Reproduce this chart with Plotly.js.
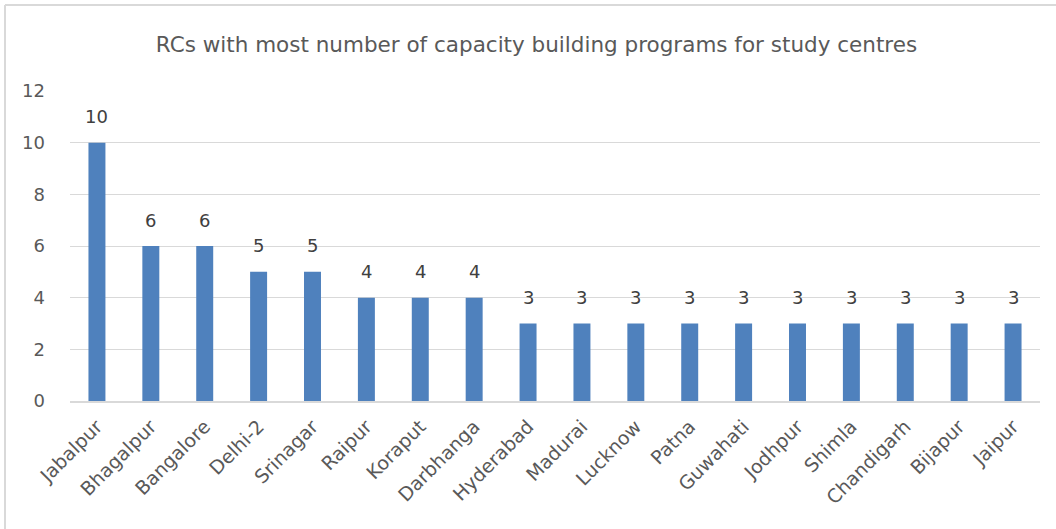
<!DOCTYPE html>
<html>
<head>
<meta charset="utf-8">
<script src="https://cdn.plot.ly/plotly-3.0.1.min.js"></script>
<style>
html,body{margin:0;padding:0;background:#fff;}
#chart{width:1056px;height:529px;}
</style>
</head>
<body>
<div id="chart"></div>
<script>
const categories = ["Jabalpur","Bhagalpur","Bangalore","Delhi-2","Srinagar","Raipur","Koraput","Darbhanga","Hyderabad","Madurai","Lucknow","Patna","Guwahati","Jodhpur","Shimla","Chandigarh","Bijapur","Jaipur"];
const programs = [10,6,6,5,5,4,4,4,3,3,3,3,3,3,3,3,3,3];
const yTicks = [0,2,4,6,8,10,12];
const titleText = "RCs with most number of capacity building programs for study centres";

const FONT = "DejaVu Sans, sans-serif";
const W = 1056, H = 529, L = 70, R = 16, T = 91, B = 128;
const pw = W - L - R, ph = H - T - B;
function px2x(p){ return (p - L) / pw; }
function py2y(p){ return (H - B - p) / ph; }

const trace = {
  type: "bar",
  x: categories,
  y: programs,
  marker: {color: "#4F81BD"},
  hoverinfo: "x+y"
};

const annotations = categories.map((c, i) => ({
  x: c, y: programs[i], xref: "x", yref: "y",
  text: String(programs[i]), showarrow: false,
  yanchor: "middle", yshift: 26,
  font: {family: FONT, size: 18, color: "#404040"}
}));

const layout = {
  width: W, height: H,
  margin: {l: L, r: R, t: T, b: B, pad: 0},
  paper_bgcolor: "#ffffff",
  plot_bgcolor: "#ffffff",
  showlegend: false,
  bargap: 0.685,
  title: {
    text: titleText,
    x: 0.508, xref: "container", xanchor: "center",
    y: 1 - 44 / H, yref: "container", yanchor: "middle",
    font: {family: FONT, size: 21.5, color: "#595959"}
  },
  xaxis: {
    type: "category",
    tickangle: -45,
    tickfont: {family: FONT, size: 19, color: "#595959"},
    showgrid: false,
    showline: true, linecolor: "#d9d9d9", linewidth: 2,
    ticks: "", ticklabelstandoff: 5, automargin: false
  },
  yaxis: {
    range: [0, 12],
    tickvals: yTicks,
    tickfont: {family: FONT, size: 18, color: "#595959"},
    showgrid: true, gridcolor: "#d9d9d9", gridwidth: 1,
    zeroline: false, showline: false,
    ticks: "", ticklabelstandoff: 24, automargin: false
  },
  annotations: annotations,
  shapes: [
    {type: "line", xref: "paper", yref: "paper", x0: px2x(5), x1: px2x(1060), y0: py2y(5), y1: py2y(5), line: {color: "#d9d9d9", width: 2}},
    {type: "line", xref: "paper", yref: "paper", x0: px2x(5), x1: px2x(5), y0: py2y(5), y1: py2y(535), line: {color: "#d9d9d9", width: 2}}
  ]
};

Plotly.newPlot("chart", [trace], layout, {displayModeBar: false, staticPlot: true});
</script>
</body>
</html>
